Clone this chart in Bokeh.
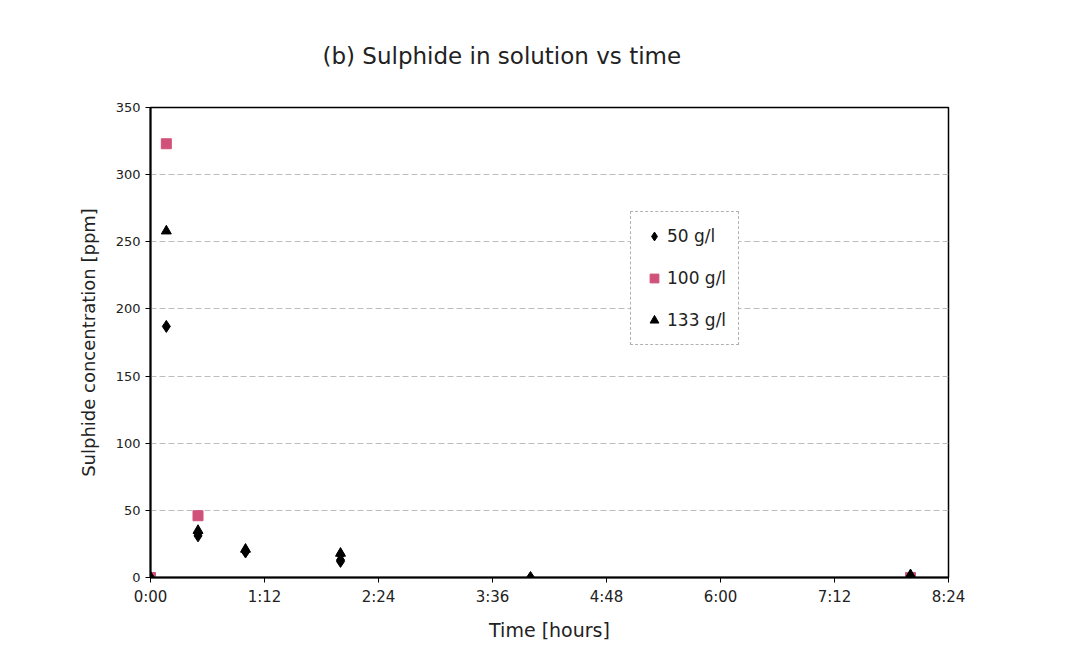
from bokeh.plotting import figure
from bokeh.models import FixedTicker, Legend, LegendItem, Title, Range1d
from bokeh.embed import file_html
from bokeh.resources import INLINE

# time in minutes
t_50 = [0, 10, 30, 30, 60, 60, 120, 120, 120, 240, 480]
c_50 = [0, 187, 31, 33, 20, 19, 17, 13, 12, 0, 1]
t_100 = [0, 10, 30, 480]
c_100 = [0, 323, 46, 0]
t_133 = [0, 10, 30, 60, 120, 480]
c_133 = [0, 258, 35, 21, 18, 2]

x_ticks = [0, 72, 144, 216, 288, 360, 432, 504]
x_tick_labels = ["0:00", "1:12", "2:24", "3:36", "4:48", "6:00", "7:12", "8:24"]
y_ticks = [0, 50, 100, 150, 200, 250, 300, 350]

FONT = "DejaVu Sans"

p = figure(width=1083, height=664, output_backend="svg", toolbar_location=None,
           x_range=Range1d(0, 504), y_range=Range1d(0, 350),
           min_border_left=150, min_border_right=135, min_border_top=107,
           min_border_bottom=87)
p.background_fill_color = "white"
p.border_fill_color = "white"
p.outline_line_color = "black"
p.outline_line_width = 1.5

p.xaxis.ticker = FixedTicker(ticks=x_ticks)
p.xaxis.major_label_overrides = {t: l for t, l in zip(x_ticks, x_tick_labels)}
p.yaxis.ticker = FixedTicker(ticks=y_ticks)

for ax in (p.xaxis[0], p.yaxis[0]):
    ax.axis_line_color = "black"
    ax.axis_line_width = 2
    ax.major_tick_line_color = "black"
    ax.major_tick_in = 0
    ax.major_tick_out = 5
    ax.minor_tick_line_color = None
    ax.major_label_text_font = FONT
    ax.major_label_text_color = "#222222"
    ax.axis_label_text_font = FONT
    ax.axis_label_text_font_style = "normal"
    ax.axis_label_text_color = "#222222"

p.xaxis.major_label_text_font_size = "15px"
p.yaxis.major_label_text_font_size = "13px"
p.xaxis.axis_label = "Time [hours]"
p.xaxis.axis_label_text_font_size = "19px"
p.xaxis.axis_label_standoff = 10
p.yaxis.axis_label = "Sulphide concentration [ppm]"
p.yaxis.axis_label_text_font_size = "18px"
p.yaxis.axis_label_standoff = 14

p.xgrid.grid_line_color = None
p.ygrid.grid_line_color = "#bdbdbd"
p.ygrid.grid_line_width = 1
p.ygrid.grid_line_dash = "6 3"

r100 = p.scatter(t_100, c_100, marker="square", size=10, fill_color="#d0527a", line_color="#d0527a")
r50 = p.scatter(t_50, c_50, marker="diamond", size=12, fill_color="black", line_color="black")
r133 = p.scatter(t_133, c_133, marker="triangle", size=10, fill_color="black", line_color="black")

legend = Legend(items=[LegendItem(label="50 g/l", renderers=[r50]),
                       LegendItem(label="100 g/l", renderers=[r100]),
                       LegendItem(label="133 g/l", renderers=[r133])],
                location=(480, 232))
legend.label_text_font = FONT
legend.label_text_font_size = "17px"
legend.label_text_color = "#222222"
legend.label_height = 24
legend.border_line_color = "#666666"
legend.border_line_dash = "1 1"
legend.border_line_width = 1
legend.spacing = 18
legend.padding = 12
legend.glyph_width = 22
legend.glyph_height = 24
legend.label_standoff = 2
legend.background_fill_alpha = 1
p.add_layout(legend, "center")

title = Title(text="(b) Sulphide in solution vs time", align="left", offset=172,
              text_font=FONT, text_font_size="23px", text_font_style="normal",
              text_color="#222222", standoff=78)
p.add_layout(title, "above")

open("out.html", "w").write(file_html(p, INLINE))
